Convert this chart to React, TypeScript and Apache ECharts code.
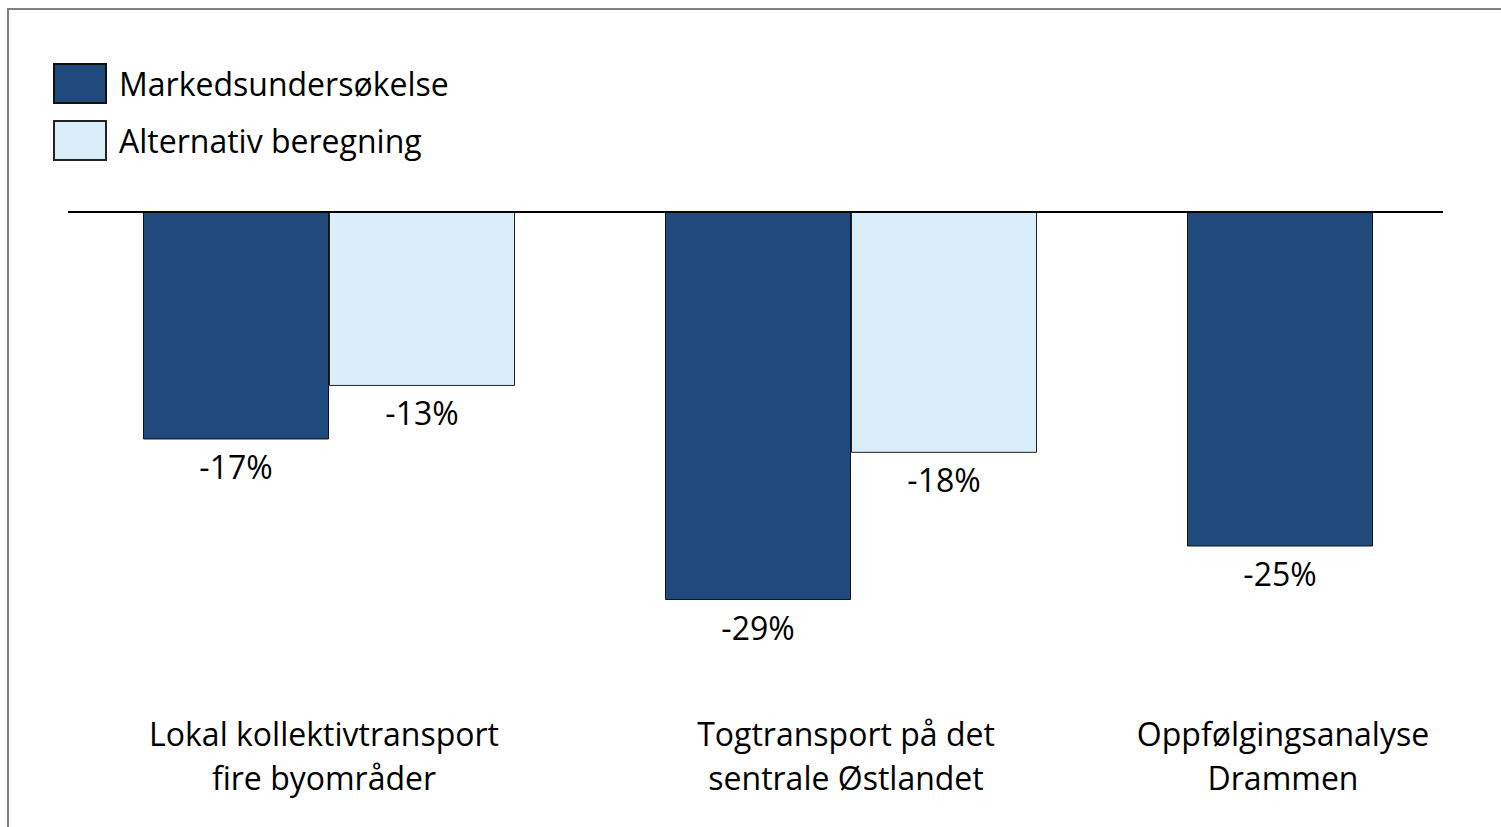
import React, { useEffect, useRef } from "react";
import * as echarts from "echarts";

const categories = [
  "Lokal kollektivtransport\nfire byområder",
  "Togtransport på det\nsentrale Østlandet",
  "Oppfølgingsanalyse\nDrammen",
];
const seriesNames = ["Markedsundersøkelse", "Alternativ beregning"];
const marketSurvey = [-17, -29, -25];
const altCalc: (number | null)[] = [-13, -18, null];
const labelShift = [10, 10, 180];

const FONT = "Open Sans";
const FS = 32;

export default function App() {
  const ref = useRef<HTMLDivElement>(null);
  useEffect(() => {
    if (!ref.current) return;
    const chart = echarts.init(ref.current, undefined, { renderer: "svg" });
    const labelStyle = {
      color: "#000",
      fontSize: FS,
      fontFamily: FONT,
      position: "bottom" as const,
      distance: 11,
      formatter: (p: any) => `${p.value}%`,
      show: true,
    };
    chart.setOption({
      animation: false,
      backgroundColor: "#fff",
      textStyle: { fontFamily: FONT },
      legend: {
        orient: "vertical",
        left: 53,
        top: 63,
        padding: 0,
        itemWidth: 52,
        itemHeight: 39,
        itemGap: 16,
        icon: "rect",
        data: seriesNames,
        textStyle: {
          fontSize: FS,
          color: "#000",
          fontFamily: FONT,
          padding: [0, 0, 0, 8],
        },
      },
      grid: { left: 68, top: 212, width: 1566, height: 35 * 13.38 },
      xAxis: {
        type: "category",
        data: categories,
        axisLine: { show: false },
        axisTick: { show: false },
        axisLabel: {
          interval: 0,
          margin: 31,
          formatter: (v: string, i: number) => `{c${i}|${v}}`,
          rich: Object.fromEntries(
            labelShift.map((s, i) => [
              `c${i}`,
              {
                fontSize: FS,
                lineHeight: 44,
                color: "#000",
                fontFamily: FONT,
                padding: [0, s, 0, 0],
              },
            ])
          ),
        },
      },
      yAxis: {
        type: "value",
        min: -35,
        max: 0,
        show: false,
        splitLine: { show: false },
      },
      series: [
        {
          name: seriesNames[0],
          type: "bar",
          data: marketSurvey,
          barWidth: 186,
          barGap: "0%",
          itemStyle: { color: "#204A7B", borderColor: "#111", borderWidth: 1 },
          label: labelStyle,
        },
        {
          name: seriesNames[1],
          type: "bar",
          data: altCalc,
          barWidth: 186,
          barGap: "0%",
          itemStyle: { color: "#DAEEFA", borderColor: "#222", borderWidth: 1 },
          label: labelStyle,
        },
      ],
    });
    const y0 = chart.convertToPixel({ yAxisIndex: 0 }, 0) as number;
    chart.setOption({
      graphic: [
        {
          type: "rect",
          shape: { x: 8, y: 9, width: 1800, height: 1000 },
          style: { fill: "none", stroke: "#808080", lineWidth: 2 },
          z: 100,
        },
        {
          type: "line",
          shape: { x1: 68, y1: y0, x2: 1443, y2: y0 },
          style: { stroke: "#000", lineWidth: 2 },
          z: 100,
        },
      ],
    });
    return () => chart.dispose();
  }, []);
  return (
    <div
      style={{
        position: "absolute",
        left: 0,
        top: 0,
        width: 1501,
        height: 827,
        overflow: "hidden",
      }}
    >
      <div ref={ref} style={{ width: 1760, height: 827 }} />
    </div>
  );
}
